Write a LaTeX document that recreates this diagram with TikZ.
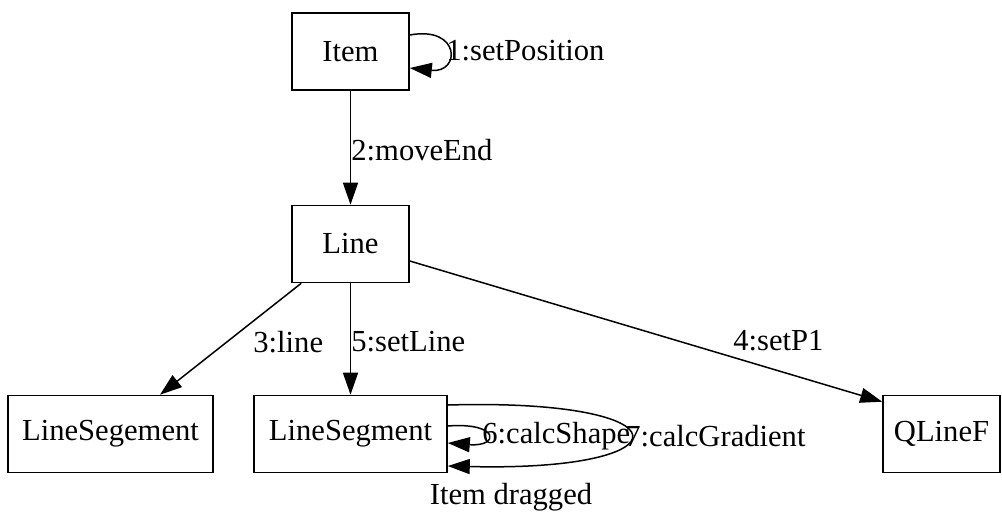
\documentclass[tikz,border=0pt]{standalone}
\usepackage{fontspec}
\setmainfont{Liberation Serif}
\usetikzlibrary{arrows.meta,calc}
\begin{document}
\begin{tikzpicture}[x=0.5pt,y=-0.5pt,
  box/.style={draw,line width=0.8pt,minimum height=38.5pt,inner sep=0pt,font=\fontsize{15.3}{18}\selectfont},
  lbl/.style={inner sep=0pt,anchor=west,font=\fontsize{15.3}{18}\selectfont},
  conn/.style={line width=0.75pt,-{Triangle[length=11pt,width=7.5pt]}}]
\useasboundingbox (0,0) rectangle (1002,516);
\node[box,minimum width=58.5pt] (item) at (350.5,51.5) {Item};
\node[box,minimum width=58.5pt] (line) at (350.5,244) {Line};
\node[box,minimum width=102.5pt] (lsg) at (110.5,434) {LineSegement};
\node[box,minimum width=96.5pt] (lseg) at (350.5,434) {LineSegment};
\node[box,minimum width=58.5pt] (qlf) at (941.5,434) {QLineF};

\draw[conn] ($(item.east)+(0,-16.5)$) .. controls ($(item.east)+(51,-26)$) and ($(item.east)+(51,22)$) .. ($(item.east)+(0,16.5)$);
\node[lbl] (l1) at (446,51) {1:setPosition};

\draw[conn] (item.south) -- (line.north);
\node[lbl] (l2) at (351,150) {2:moveEnd};

\draw[conn] ($(line.south west)+(10,0)$) -- ($(lsg.north)+(49.5,0)$);
\node[lbl] (l3) at (253,342) {3:line};

\draw[conn] (line.south) -- (lseg.north);
\node[lbl] (l5) at (351,342) {5:setLine};

\draw[conn] ($(line.east)+(0,17)$) -- ($(qlf.north west)+(0,7)$);
\node[lbl] (l4) at (733,341) {4:setP1};

\draw[conn] ($(lseg.east)+(0,-29)$) .. controls ($(lseg.east)+(243,-36)$) and ($(lseg.east)+(243,38)$) .. ($(lseg.east)+(0,32)$);
\draw[conn] ($(lseg.east)+(0,-8)$) .. controls ($(lseg.east)+(52,-12)$) and ($(lseg.east)+(52,13)$) .. ($(lseg.east)+(0,9)$);
\node[lbl] (l6) at (482,436) {6:calcShape};
\node[lbl] (l7) at (625,436) {7:calcGradient};
\node[inner sep=0pt,font=\fontsize{15.3}{18}\selectfont] (cap) at (511,497) {Item dragged};
\end{tikzpicture}
\end{document}
